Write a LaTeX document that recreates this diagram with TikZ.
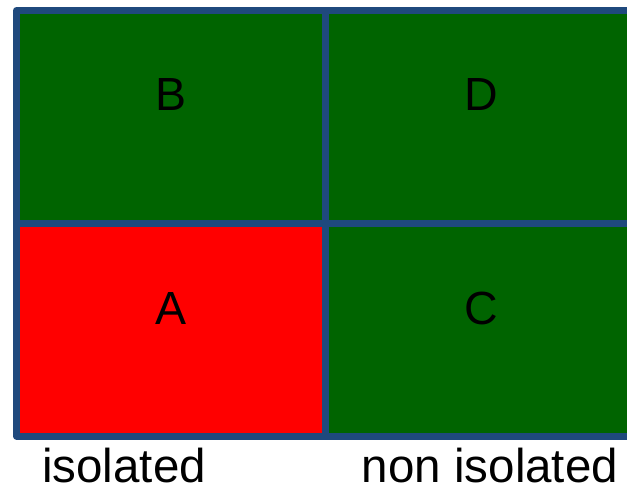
\documentclass[tikz,border=0pt]{standalone}
\usepackage{fontspec}
\setmainfont{Liberation Sans}
\definecolor{gridline}{RGB}{31,73,125}
\definecolor{cellgreen}{RGB}{0,100,0}
\definecolor{cellred}{RGB}{255,0,0}
\tikzset{
  cell/.style={draw=gridline, line width=7pt, line join=round},
  celltext/.style={anchor=base, inner sep=0pt, font=\fontsize{46.5}{50}\selectfont, text=black},
  caption/.style={anchor=base, inner sep=0pt, font=\fontsize{47.5}{52}\selectfont, text=black}
}
\begin{document}
\begin{tikzpicture}[x=1pt, y=-1pt]
  \useasboundingbox (0,0) rectangle (627,490);
  \begin{scope}
    \clip (0,0) rectangle (627,490);
    % four quadrants of the 2x2 grid
    \filldraw[cell, fill=cellgreen] (16.5,10.5) rectangle (325.5,223.5);
    \filldraw[cell, fill=cellgreen] (325.5,10.5) rectangle (634.5,223.5);
    \filldraw[cell, fill=cellred]   (16.5,223.5) rectangle (325.5,436);
    \filldraw[cell, fill=cellgreen] (325.5,223.5) rectangle (634.5,436);
  \end{scope}
  \node[celltext] (B) at (171,110.5) {B};
  \node[celltext] (D) at (481,110.5) {D};
  \node[celltext] (A) at (171,324) {A};
  \node[celltext] (C) at (481,324) {C};
  \node[caption] (iso) at (124,482) {isolated};
  \node[caption] (noniso) at (490,482) {non isolated};
\end{tikzpicture}
\end{document}
